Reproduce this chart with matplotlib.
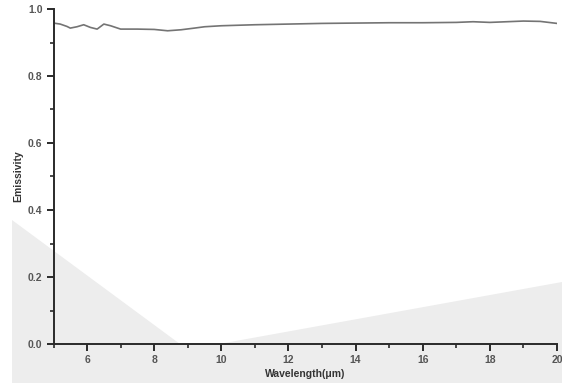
import matplotlib
matplotlib.use('Agg')
import matplotlib.pyplot as plt
from matplotlib.patches import Polygon
from matplotlib.ticker import MultipleLocator
import numpy as np

# spectrum
golflengte = [5.0, 5.2, 5.4, 5.5, 5.7, 5.9, 6.1, 6.3, 6.5, 6.7, 7.0, 7.5, 8.0, 8.4,
              8.8, 9.2, 9.5, 10.0, 11.0, 12.0, 13.0, 14.0, 15.0, 16.0, 17.0, 17.5,
              18.0, 18.5, 19.0, 19.5, 20.0]
emissiviteit = [0.958, 0.955, 0.948, 0.943, 0.947, 0.953, 0.945, 0.940, 0.955, 0.950,
                0.940, 0.940, 0.939, 0.935, 0.938, 0.943, 0.947, 0.950, 0.953, 0.955,
                0.957, 0.958, 0.959, 0.959, 0.960, 0.962, 0.960, 0.962, 0.964, 0.963,
                0.957]

x_ticks = [6, 8, 10, 12, 14, 16, 18, 20]
y_ticks = [0.0, 0.2, 0.4, 0.6, 0.8, 1.0]

W, H = 562, 386
fig = plt.figure(figsize=(W / 100, H / 100), dpi=100, facecolor='white')

# lichtgrijze vlakken van de scan (in pixels, omgezet naar figuur-coordinaten)
def pix(punten):
    return [(x / W, 1 - y / H) for x, y in punten]

grijs = '#ededed'
vlak = [(12, 220), (180, 344), (219, 344), (562, 282), (562, 383), (12, 383)]
fig.patches.append(Polygon(pix(vlak), closed=True, transform=fig.transFigure,
                           facecolor=grijs, edgecolor='none', zorder=0))

ax = fig.add_axes([53.5 / W, 1 - 344 / H, (557 - 53.5) / W, (344 - 9) / H])
ax.set_zorder(2)
ax.patch.set_visible(False)

ax.plot(golflengte, emissiviteit, color='#747474', linewidth=1.2)

ax.set_xlim(5, 20)
ax.set_ylim(0, 1.0)
ax.set_xticks(x_ticks)
ax.set_yticks(y_ticks)
ax.set_yticklabels([f'{v:.1f}' for v in y_ticks])
ax.xaxis.set_minor_locator(MultipleLocator(1))
ax.yaxis.set_minor_locator(MultipleLocator(0.1))

for kant in ['top', 'right']:
    ax.spines[kant].set_visible(False)
for kant in ['left', 'bottom']:
    ax.spines[kant].set_linewidth(1.4)
    ax.spines[kant].set_color('#2a2a2a')

ax.tick_params(which='major', direction='out', length=5, width=1.4, color='#2a2a2a',
               labelsize=7.5, labelcolor='#555555', pad=3)
ax.tick_params(which='minor', direction='out', length=3, width=1.2, color='#2a2a2a')
for lab in ax.get_xticklabels() + ax.get_yticklabels():
    lab.set_fontweight('bold')
    lab.set_family('Liberation Sans')

ax.set_xlabel('Wavelength(μm)', fontsize=7.5, fontweight='bold', color='#333333',
              family='Liberation Sans', labelpad=2.5)
ax.set_ylabel('Emissivity', fontsize=7.5, fontweight='bold', color='#333333',
              family='Liberation Sans', labelpad=3)

plt.savefig('out.png', dpi=100)
plt.close()
